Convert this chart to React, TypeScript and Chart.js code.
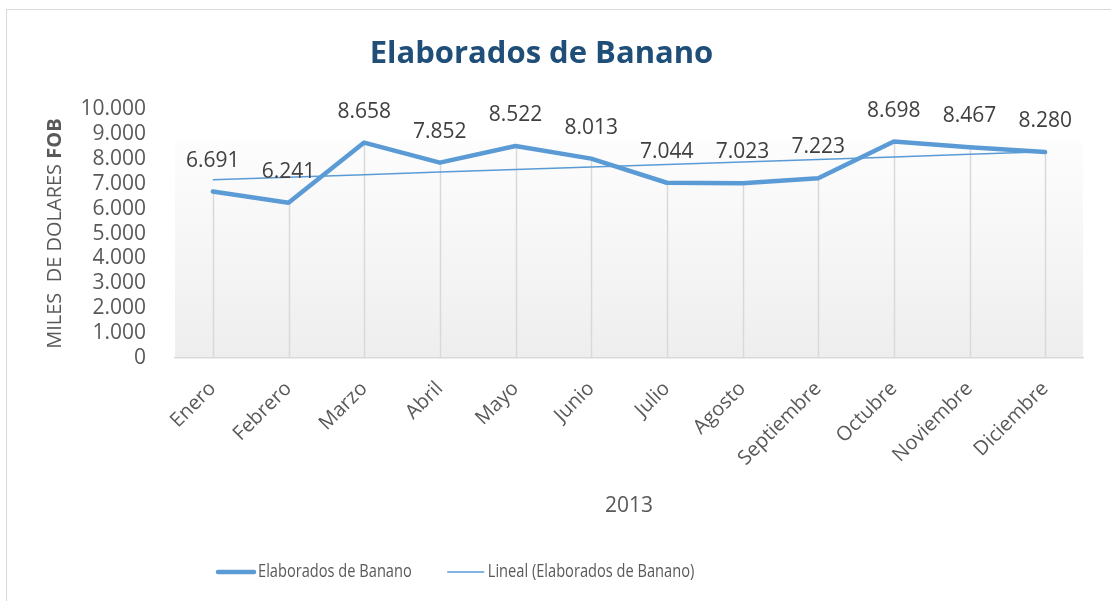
import React, { useEffect, useRef } from 'react';
import { Chart, registerables } from 'chart.js';

Chart.register(...registerables);

const chartTitle = 'Elaborados de Banano';
const months = ['Enero', 'Febrero', 'Marzo', 'Abril', 'Mayo', 'Junio', 'Julio', 'Agosto', 'Septiembre', 'Octubre', 'Noviembre', 'Diciembre'];
const exportValues = [6691, 6241, 8658, 7852, 8522, 8013, 7044, 7023, 7223, 8698, 8467, 8280];
const seriesName = 'Elaborados de Banano';
const trendName = 'Lineal (Elaborados de Banano)';
const xAxisTitle = '2013';
const yTitleNormal = 'MILES  DE DOLARES ';
const yTitleBold = 'FOB';
const yMin = 0;
const yMax = 10000;
const yStep = 1000;

const FONT = "'Open Sans', sans-serif";
const LINE_COLOR = '#5B9BD5';
const TEXT_GRAY = '#595959';

function fmt(v: number): string {
  return String(Math.round(v)).replace(/\B(?=(\d{3})+(?!\d))/g, '.');
}

// least-squares linear trendline of the series (as Excel's "Lineal" trendline)
function linearTrend(values: number[]): number[] {
  const n = values.length;
  const xs = values.map((_, i) => i + 1);
  const mx = xs.reduce((a, b) => a + b, 0) / n;
  const my = values.reduce((a, b) => a + b, 0) / n;
  let sxy = 0;
  let sxx = 0;
  for (let i = 0; i < n; i++) {
    sxy += (xs[i] - mx) * (values[i] - my);
    sxx += (xs[i] - mx) * (xs[i] - mx);
  }
  const slope = sxy / sxx;
  return xs.map((x) => my + slope * (x - mx));
}

const backgroundPlugin = {
  id: 'bgPlugin',
  beforeDraw(chart: any) {
    const { ctx, chartArea, scales } = chart;
    ctx.save();
    ctx.fillStyle = '#ffffff';
    ctx.fillRect(0, 0, chart.width, chart.height);
    ctx.strokeStyle = '#d9d9d9';
    ctx.lineWidth = 1;
    ctx.strokeRect(6.5, 9.5, chart.width + 50, chart.height + 50);
    const topY = scales.y.getPixelForValue(Math.max(...exportValues));
    const g = ctx.createLinearGradient(0, topY, 0, chartArea.bottom);
    g.addColorStop(0, '#fdfdfd');
    g.addColorStop(1, '#eeeeee');
    ctx.fillStyle = g;
    ctx.fillRect(chartArea.left, topY, chartArea.right - chartArea.left, chartArea.bottom - topY);
    ctx.restore();
  },
};

const dropLinesPlugin = {
  id: 'dropLines',
  beforeDatasetsDraw(chart: any) {
    const { ctx, chartArea } = chart;
    const meta = chart.getDatasetMeta(0);
    ctx.save();
    ctx.strokeStyle = '#d9d9d9';
    ctx.lineWidth = 1.5;
    meta.data.forEach((pt: any) => {
      const x = Math.round(pt.x) + 0.5;
      ctx.beginPath();
      ctx.moveTo(x, pt.y);
      ctx.lineTo(x, chartArea.bottom);
      ctx.stroke();
    });
    ctx.restore();
  },
};

const dataLabelPlugin = {
  id: 'dataLabels',
  afterDatasetsDraw(chart: any) {
    const { ctx } = chart;
    const meta = chart.getDatasetMeta(0);
    ctx.save();
    ctx.font = `21px ${FONT}`;
    ctx.fillStyle = '#404040';
    ctx.textAlign = 'center';
    ctx.textBaseline = 'middle';
    meta.data.forEach((pt: any, i: number) => {
      ctx.fillText(fmt(exportValues[i]), pt.x, pt.y - 31);
    });
    ctx.restore();
  },
};

const yTitlePlugin = {
  id: 'yTitle',
  afterDraw(chart: any) {
    const { ctx, chartArea } = chart;
    ctx.save();
    const normalFont = `20px ${FONT}`;
    const boldFont = `bold 20px ${FONT}`;
    ctx.font = normalFont;
    const w1 = ctx.measureText(yTitleNormal).width;
    ctx.font = boldFont;
    const w2 = ctx.measureText(yTitleBold).width;
    const total = w1 + w2;
    const cy = (chartArea.top + chartArea.bottom) / 2;
    ctx.translate(55, cy);
    ctx.rotate(-Math.PI / 2);
    ctx.fillStyle = TEXT_GRAY;
    ctx.textBaseline = 'middle';
    ctx.textAlign = 'left';
    ctx.font = normalFont;
    ctx.fillText(yTitleNormal, -total / 2, 0);
    ctx.font = boldFont;
    ctx.fillText(yTitleBold, -total / 2 + w1, 0);
    ctx.restore();
  },
};

const legendPlugin = {
  id: 'customLegend',
  afterDraw(chart: any) {
    const { ctx } = chart;
    ctx.save();
    const squeeze = 0.77;
    ctx.font = `19px ${FONT}`;
    ctx.fillStyle = TEXT_GRAY;
    ctx.textBaseline = 'middle';
    ctx.textAlign = 'left';
    const y = 572;
    let x = 218;
    const items = [
      { text: seriesName, width: 4.5 },
      { text: trendName, width: 1.5 },
    ];
    items.forEach((it) => {
      ctx.strokeStyle = LINE_COLOR;
      ctx.lineWidth = it.width;
      ctx.lineCap = 'round';
      ctx.beginPath();
      ctx.moveTo(x, y);
      ctx.lineTo(x + 36, y);
      ctx.stroke();
      const tx = x + 40;
      ctx.save();
      ctx.translate(tx, y);
      ctx.scale(squeeze, 1);
      ctx.fillText(it.text, 0, 0);
      ctx.restore();
      x = tx + ctx.measureText(it.text).width * squeeze + 36;
    });
    ctx.restore();
  },
};

export default function App() {
  const canvasRef = useRef<HTMLCanvasElement | null>(null);

  useEffect(() => {
    if (!canvasRef.current) return;
    Chart.defaults.font.family = FONT;
    const trend = linearTrend(exportValues);
    const chart = new Chart(canvasRef.current, {
      type: 'line',
      data: {
        labels: months,
        datasets: [
          {
            label: seriesName,
            data: exportValues,
            borderColor: LINE_COLOR,
            backgroundColor: LINE_COLOR,
            borderWidth: 4.5,
            pointRadius: 0,
            tension: 0,
            borderCapStyle: 'round',
            borderJoinStyle: 'round',
            order: 1,
          },
          {
            label: trendName,
            data: trend,
            borderColor: LINE_COLOR,
            backgroundColor: LINE_COLOR,
            borderWidth: 1.5,
            pointRadius: 0,
            tension: 0,
            order: 0,
          },
        ],
      },
      options: {
        responsive: false,
        animation: false,
        events: [],
        layout: { padding: { left: 0, right: 28, top: 0, bottom: 80 } },
        plugins: {
          legend: { display: false },
          tooltip: { enabled: false },
          title: {
            display: true,
            text: chartTitle,
            color: '#1F4E79',
            font: { family: FONT, size: 31, weight: 'bold' },
            padding: { top: 36, bottom: 36 },
          },
        },
        scales: {
          x: {
            type: 'category',
            offset: true,
            grid: { display: false, drawTicks: false },
            border: { display: true, color: '#d9d9d9', width: 1.5 },
            ticks: {
              color: TEXT_GRAY,
              font: { family: FONT, size: 20 },
              maxRotation: 45,
              minRotation: 45,
              autoSkip: false,
              padding: 19,
            },
            title: {
              display: true,
              text: xAxisTitle,
              color: TEXT_GRAY,
              font: { family: FONT, size: 21 },
              padding: { top: 0, bottom: 2 },
            },
            afterFit: (s: any) => {
              s.height = 163;
            },
          },
          y: {
            min: yMin,
            max: yMax,
            grid: { display: false, drawTicks: false },
            border: { display: false },
            ticks: {
              stepSize: yStep,
              autoSkip: false,
              padding: 29,
              color: TEXT_GRAY,
              font: { family: FONT, size: 21 },
              callback: (v: any) => fmt(Number(v)),
            },
            afterFit: (s: any) => {
              s.width = 175;
            },
          },
        },
      },
      plugins: [backgroundPlugin, dropLinesPlugin, dataLabelPlugin, yTitlePlugin, legendPlugin],
    } as any);
    return () => chart.destroy();
  }, []);

  return (
    <div style={{ position: 'absolute', left: 0, top: 0, width: 1111, height: 601, background: '#fff' }}>
      <canvas ref={canvasRef} width={1111} height={601} style={{ display: 'block' }} />
    </div>
  );
}
